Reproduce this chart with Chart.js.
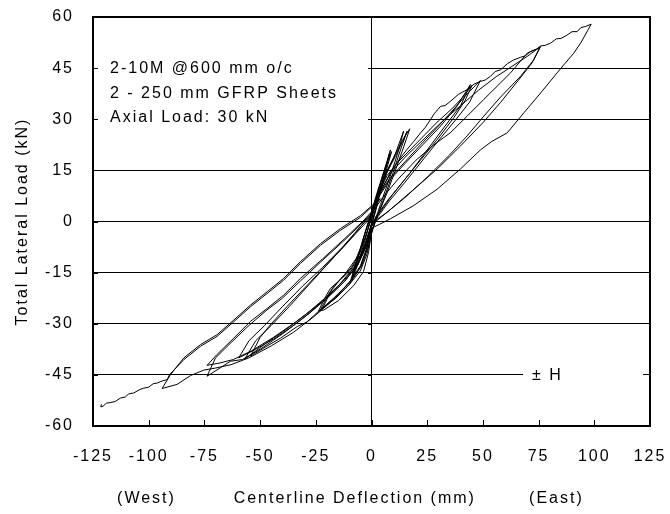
<!DOCTYPE html>
<html>
<head>
<meta charset="utf-8">
<script src="https://cdn.jsdelivr.net/npm/chart.js@4/dist/chart.umd.min.js"></script>
<style>
  body { margin: 0; background: #fff; }
  #wrap { width: 670px; height: 514px; }
</style>
</head>
<body>
<div id="wrap"><canvas id="myChart" width="670" height="514"></canvas></div>
<script>
// load history, [deflection mm, load kN], one array per amplitude group
const loopsA = [ // +-9 mm, 3 cycles
  [0,0],[2,6],[5,13.5],[8.5,21],[6,14.5],[3,7],[0,-1],[-3,-7.5],[-6,-12.5],[-9.4,-17.5],
  [-6.5,-11],[-3,-3.5],[0,3],[3,9.5],[6,15.5],[9,20.5],[6,13.5],[3,6],[0,-1.5],[-3,-7],[-6,-12],[-9,-17],
  [-6,-10.5],[-3,-3.5],[0,2.5],[3,9],[6,15],[8,19.8],[5.5,13],[2.5,5],[0,-1],[-4,-8.5],[-8.5,-16.5],
  [-5.5,-9.5],[-2.5,-2.5],[0,2]
];
const loopsB = [ // +17 / -24 mm, 3 cycles
  [3,8.5],[7,15],[10.5,19.5],[14,24],[17.2,27.2],[14.5,22],[11,15.5],[7,8.5],[3,2],[0,-3],
  [-1.3,-9],[-3.6,-14.7],[-8,-18.8],[-14.8,-23.2],[-21.5,-26],[-23.8,-26.3],
  [-21,-22.5],[-18.4,-19.6],[-13,-16.5],[-9.4,-14.2],[-5,-10],[-2,-3.5],[0,2],
  [3,8],[7,14.5],[11,19.5],[14,23.5],[16,26.5],[13,21],[9.5,14],[6,7.5],[2,0.5],[0,-3.5],
  [-2,-9.5],[-5,-14.5],[-10,-18.5],[-16,-22.5],[-23,-26],[-19,-21],[-14,-17],[-9,-13.5],[-5,-9],[-2,-3],[0,1.5],
  [3,8],[7,14.5],[10.5,19.5],[14.4,26.5],[12,20.5],[8,12.5],[4,5],[1,-1],
  [-1.5,-7.5],[-4.5,-13],[-9,-17],[-15,-21.5],[-22,-25.5],[-17.5,-19.5],[-12,-15.5],[-7,-11],[-3,-5],[0,1]
];
const loopsC = [ // +46 / -57 mm, 3 cycles
  [3,8],[7,13.5],[12,17.5],[18,21.5],[24,25.5],[30,29.5],[36,33],[41,36.5],[45.2,40],
  [42,35.5],[37,30.5],[30,24.5],[22,18],[14.5,12],[7,6],[2,1.5],[0,-1.5],
  [-2,-7.5],[-5,-13],[-10,-18],[-17,-22.5],[-24,-26.5],[-29,-29.5],[-33.3,-30.8],[-40.8,-34.2],[-48.3,-37.1],[-54.3,-39.5],
  [-50,-34],[-45,-30],[-38,-25],[-30,-19.5],[-22,-14],[-14,-8.5],[-7,-3.5],[-2,0],[0,2],
  [3,7.5],[8,12.5],[15,17.5],[22,22.5],[30,28],[37,33],[43,37.5],[48.9,41.4],
  [44,35],[38,30],[31,24.5],[23,18],[15,11.5],[8,6],[3,1.5],[0,-1.5],
  [-2,-7],[-6,-12.5],[-12,-17.5],[-20,-22.5],[-28,-27],[-36,-31],[-44,-34.5],[-52,-37.5],[-59.6,-40],
  [-55,-35],[-48,-30.5],[-40,-25],[-31,-19],[-22,-13.5],[-13,-7.5],[-5,-1.5],[0,2],
  [3,7],[8,12],[15,17],[23,22.5],[31,28],[38,33.5],[44.4,40.2],
  [40,34],[33,28],[25,21],[17,14],[9,7.5],[3,2],[0,-1],
  [-2,-6.5],[-6,-12],[-12,-17],[-20,-22],[-29,-27],[-38,-31.5],[-47,-35.5],[-57,-40.5],
  [-52,-35],[-45,-30.5],[-37,-25],[-28,-18.5],[-19,-12],[-10,-5.5],[-3,0],[0,2]
];
const loopsD = [ // +76 / -74 mm, 2 cycles
  [4,9],[9,14.5],[16,19.5],[24,24.5],[32,29.5],[40,34],[48,38.5],[56,42.5],[63,45.5],[70,48.5],[75.9,51.3],
  [72.8,47.4],[66.9,42.6],[57.9,36.5],[50.4,30.9],[42.9,25.1],[35,19.5],[25,13],[15,7],[7,2.7],[0,-1],
  [-2,-6.5],[-6,-12.5],[-12,-17.5],[-20,-22.5],[-30,-28],[-40,-33],[-50,-37.5],[-58,-40.5],[-63.3,-41],[-67.8,-42.9],[-73.8,-45.4],
  [-70,-40],[-63,-35.5],[-55,-30.5],[-47,-26],[-40,-22.5],[-32,-17.5],[-23,-12],[-13,-6],[-5,-1],[0,2.5],
  [5,7],[12,12.5],[20,18],[28,22.5],[35.5,26.1],[42.9,30.9],[50.4,35.8],[56.4,39.7],[62.4,43.6],[69.9,49.4],[75.5,51],
  [72,46.5],[66,41.5],[58,35],[50,29],[40,22.2],[29.5,15.4],[17.5,8.6],[7,2.7],[0,-0.5],
  [-3,-7.5],[-8,-13.5],[-15,-19],[-24,-24.5],[-34,-29.5],[-44,-34],[-54,-38],[-62,-40.5],[-68,-41.5],[-73.8,-42.2],
  [-69.3,-39],[-61.8,-34.2],[-54.3,-29.3],[-46.8,-25.5],[-39.4,-21.6],[-31.9,-16.7],[-22,-11],[-12,-5],[-4,0],[0,2.8]
];
const loopE = [ // +99 / -93 mm
  [2.5,7],[5.5,10.5],[8.5,14.5],[11.5,17.3],[14,19.5],[16,21.2],[19,23.5],[22,26],[24,27.5],[26.5,29.9],
  [28,31.5],[31,33.8],[33,34],[35.5,35.3],[39,37.3],[42.9,38.7],[46,40.3],[48.9,41.1],[51,41.5],[53.4,42.6],
  [55.5,44],[57.9,44.5],[61,46.3],[63.8,47.4],[67,48.2],[69,48.6],[71.4,49.9],[74,50.5],[75.9,51.5],[78,51.7],
  [80.3,52.3],[83,53.6],[85,53.7],[87.8,54.7],[90,55.7],[92.3,55.7],[94,56.9],[96,57.2],[98.6,57.9],
  [97,56],[94,52.5],[90.8,49.4],[87,46.5],[83.3,43.6],[75.9,37.7],[68.4,31.9],[60.9,26],[54,23.5],[48.9,21],
  [39.9,15.4],[29.5,9.5],[19,4.7],[8.5,0.8],[0,-2],
  [-2,-8],[-5,-13.5],[-10,-18.5],[-18,-23.5],[-26,-28],[-35,-32.5],[-45,-36.5],[-55,-40],[-63,-42],[-70,-43],
  [-75.3,-43.6],[-81.2,-45.2],[-87.3,-47.8],[-94,-49],
  [-90.2,-44.9],[-84.2,-40],[-76.7,-36.1],[-69.3,-33.2],[-61.8,-28.9],[-54.3,-24.5],[-46.8,-20.6],[-39.4,-16.7],
  [-31.9,-11.8],[-22.9,-6.5],[-14,-2.1],[-5,1.7],[0.3,4.7],[4,6.6]
];
const tailF = [ // final push west to -120 mm
  [0,4.2],[-5,1.2],[-14,-2.6],[-22.9,-7],[-31.9,-12.3],[-39.4,-17.2],[-46.8,-21.1],[-54.3,-25],[-61.8,-29.4],
  [-69.3,-33.7],[-76.7,-36.6],[-84.2,-40.5],[-90.6,-44.9],[-91.7,-46.4],[-94,-46.8],[-96.2,-47.4],[-98,-47.6],
  [-100,-48.6],[-102.2,-48.9],[-104,-49.3],[-106.7,-50.3],[-109,-50.6],[-110.5,-51.5],[-112.7,-51.8],[-115,-52.8],
  [-117,-53.1],[-119,-53.3],[-120.5,-54.2],[-121.5,-54.4],[-121.2,-53.6]
];

const xTicksMin = -125, xTicksMax = 125, xStep = 25;
const yTicksMin = -60, yTicksMax = 60, yStep = 15;
const noteLines = ['2-10M @600 mm o/c', '2 - 250 mm GFRP Sheets', 'Axial Load: 30 kN'];

const history = [].concat(loopsA, loopsB, loopsC, loopsD, loopE, tailF);
const FONT = '16px "Liberation Sans", Arial, sans-serif';

const decor = {
  id: 'decor',
  beforeDraw(chart) {
    chart.ctx.letterSpacing = '2px';
  },
  afterDraw(chart) {
    const ctx = chart.ctx;
    const a = chart.chartArea;
    const xs = chart.scales.x, ys = chart.scales.y;
    const x0 = Math.round(xs.getPixelForValue(0));
    ctx.save();
    ctx.letterSpacing = '2px';
    // white note box over the grid
    ctx.fillStyle = '#fff';
    ctx.fillRect(a.left + 5, ys.getPixelForValue(55), x0 - 4 - (a.left + 5), ys.getPixelForValue(22) - ys.getPixelForValue(55));
    ctx.fillStyle = '#000';
    ctx.font = FONT;
    ctx.textBaseline = 'middle';
    ctx.textAlign = 'left';
    const ty = ys.getPixelForValue(45) + 0.5;
    noteLines.forEach((t, i) => ctx.fillText(t, 110, ty + i * 24.5));
    // +-H label box
    const hy = ys.getPixelForValue(-45);
    ctx.fillStyle = '#fff';
    ctx.fillRect(xs.getPixelForValue(68), hy - 9, a.right - 7 - xs.getPixelForValue(68), 18);
    ctx.fillStyle = '#000';
    ctx.fillText('\u00b1 H', 532, hy + 1);
    // ticks
    ctx.strokeStyle = '#000';
    ctx.lineWidth = 1;
    ctx.beginPath();
    for (let v = xTicksMin + xStep; v < xTicksMax; v += xStep) {
      const px = Math.round(xs.getPixelForValue(v)) + 0.5;
      ctx.moveTo(px, a.bottom); ctx.lineTo(px, a.bottom - 6);
    }
    for (let v = yTicksMin + yStep; v < yTicksMax; v += yStep) {
      const py = Math.round(ys.getPixelForValue(v)) + 0.5;
      ctx.moveTo(a.left, py); ctx.lineTo(a.left + 5, py);
      ctx.moveTo(x0 - 4, py); ctx.lineTo(x0, py);
    }
    ctx.stroke();
    // plot frame
    ctx.lineWidth = 2;
    ctx.strokeRect(a.left, a.top, a.right - a.left, a.bottom - a.top);
    // axis titles
    ctx.font = FONT;
    ctx.textAlign = 'center';
    const by = 499;
    ctx.fillText('(West)', xs.getPixelForValue(-101), by);
    ctx.fillText('Centerline Deflection (mm)', xs.getPixelForValue(-7.5), by);
    ctx.fillText('(East)', xs.getPixelForValue(83), by);
    ctx.translate(23, (a.top + a.bottom) / 2);
    ctx.rotate(-Math.PI / 2);
    ctx.fillText('Total Lateral Load (kN)', 0, 0);
    ctx.restore();
  }
};

function noPad(s) {
  s.paddingLeft = 0; s.paddingRight = 0; s.paddingTop = 0; s.paddingBottom = 0;
}

const config = {
  type: 'scatter',
  data: {
    datasets: [{
      data: history.map(p => ({x: p[0], y: p[1]})),
      showLine: true,
      borderColor: '#000',
      borderWidth: 1,
      pointRadius: 0,
      tension: 0,
      fill: false
    }]
  },
  options: {
    responsive: false,
    animation: false,
    layout: { autoPadding: false, padding: { top: 17, right: 20, left: 0, bottom: 0 } },
    plugins: { legend: { display: false }, tooltip: { enabled: false } },
    scales: {
      x: {
        type: 'linear', min: xTicksMin, max: xTicksMax,
        ticks: { stepSize: xStep, color: '#000', font: { family: '"Liberation Sans", Arial', size: 16 }, padding: 21, maxRotation: 0 },
        grid: { drawTicks: false, color: c => (c.tick && c.tick.value === 0) ? '#000' : 'rgba(0,0,0,0)' },
        border: { display: false },
        afterFit: s => { s.height = 88; noPad(s); }
      },
      y: {
        min: yTicksMin, max: yTicksMax,
        ticks: { stepSize: yStep, color: '#000', font: { family: '"Liberation Sans", Arial', size: 16 }, padding: 19 },
        grid: { drawTicks: false, color: '#000' },
        border: { display: false },
        afterFit: s => { s.width = 93; noPad(s); }
      }
    }
  },
  plugins: [decor]
};

const myChart = new Chart(document.getElementById('myChart'), config);
</script>
</body>
</html>
